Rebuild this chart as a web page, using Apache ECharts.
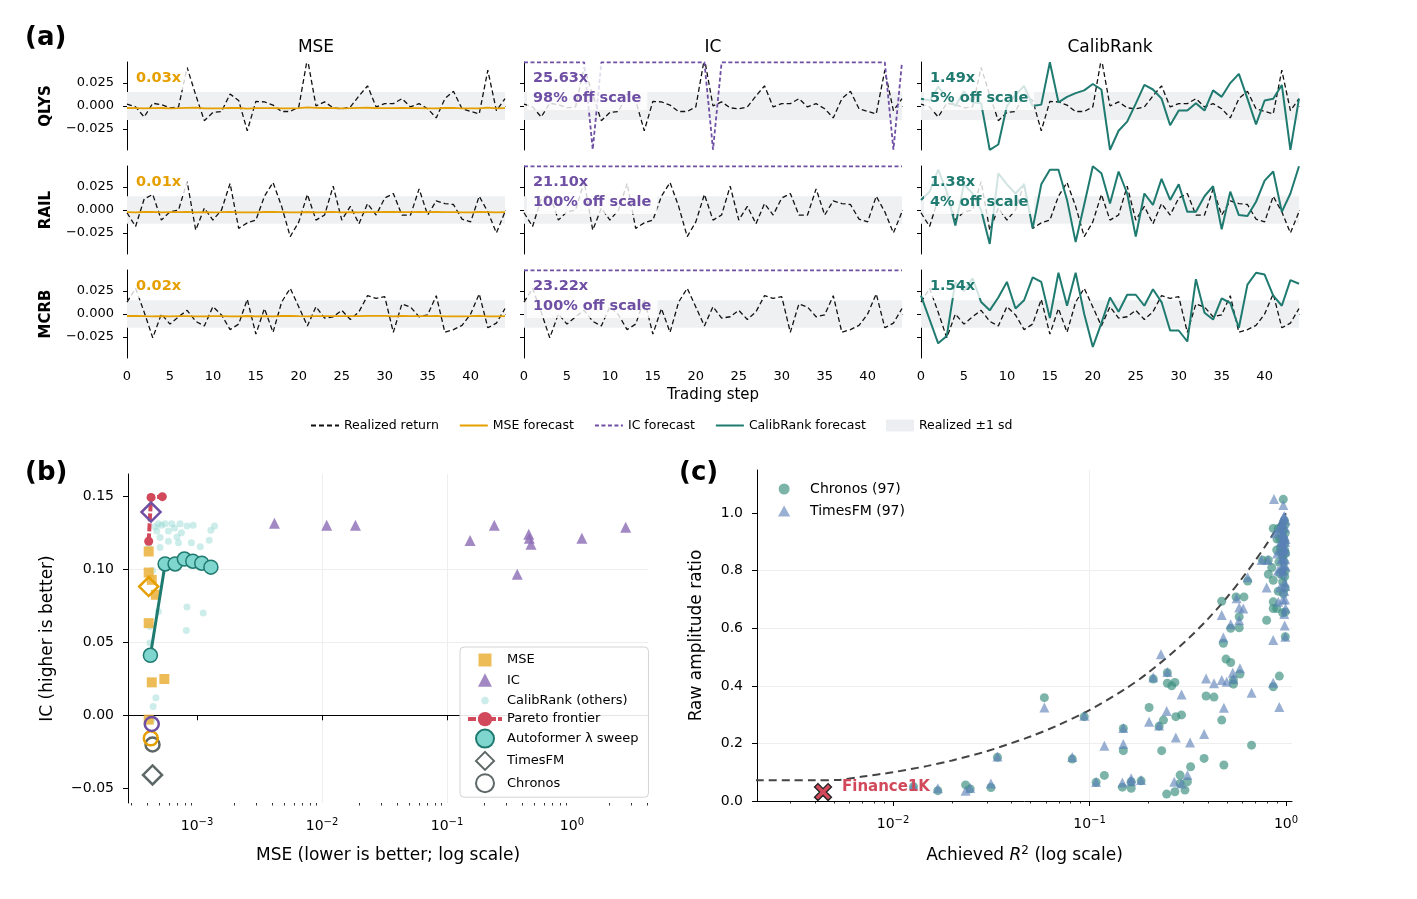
<!DOCTYPE html>
<html>
<head>
<meta charset="utf-8">
<script src="https://cdn.jsdelivr.net/npm/echarts@6/dist/echarts.min.js"></script>
<style>
  html, body { margin: 0; padding: 0; background: #fff; }
  #chart { width: 1417px; height: 899px; }
</style>
</head>
<body>
<div id="chart"></div>
<script>
// ---- panel (a): realized vs forecast returns ----
const tickers = ['QLYS', 'RAIL', 'MCRB'];
const losses = ['MSE', 'IC', 'CalibRank'];
const stepTicks = [0, 5, 10, 15, 20, 25, 30, 35, 40];
const returnTicks = [-0.025, 0, 0.025];
const bandSd = [0.0152, 0.0150, 0.0150];

const realizedQLYS = [0.002, -0.001, -0.012, 0.003, 0.0015, -0.002, -0.001, 0.042, 0.012, -0.016, -0.007, -0.006, 0.013, 0.006, -0.027, 0.005, 0.0045, 0.001, -0.006, -0.006, -0.001, 0.052, 0.0, 0.0045, -0.002, -0.003, -0.001, 0.011, 0.022, -0.001, 0.0026, 0.0026, 0.008, -0.001, 0.0026, -0.003, -0.013, 0.008, 0.016, -0.003, -0.006, -0.0085, 0.039, -0.005, 0.008];
const realizedRAIL = [-0.003, -0.018, 0.012, 0.017, -0.011, -0.002, 0.0, 0.031, -0.022, 0.002, -0.011, 0.0, 0.029, -0.020, -0.014, -0.011, 0.015, 0.030, 0.004, -0.029, -0.013, 0.017, -0.011, -0.0055, 0.026, -0.011, 0.004, -0.015, 0.007, -0.0055, 0.013, 0.018, -0.0055, -0.0055, 0.023, -0.0055, 0.010, 0.007, 0.006, -0.010, -0.013, 0.015, -0.002, -0.025, -0.002];
const realizedMCRB = [0.013, 0.028, 0.002, -0.026, 0.0, -0.011, -0.003, 0.004, -0.008, -0.013, 0.008, -0.001, -0.017, -0.011, 0.016, -0.022, 0.006, -0.020, 0.013, 0.028, 0.0076, -0.013, 0.008, -0.0045, -0.003, 0.004, -0.006, 0.0024, 0.020, 0.017, 0.019, -0.020, 0.011, 0.0076, -0.003, -0.001, 0.020, -0.020, -0.017, -0.0125, 0.0, 0.022, -0.015, -0.010, 0.006];

const mseQLYS = [-0.0022, -0.0024, -0.0027, -0.0023, -0.0022, -0.0025, -0.0024, -0.0020, -0.0018, -0.0026, -0.0027, -0.0026, -0.0021, -0.0022, -0.0028, -0.0024, -0.0023, -0.0023, -0.0025, -0.0025, -0.0023, -0.0016, -0.0020, -0.0022, -0.0024, -0.0026, -0.0024, -0.0021, -0.0019, -0.0024, -0.0023, -0.0023, -0.0022, -0.0024, -0.0023, -0.0025, -0.0027, -0.0022, -0.0020, -0.0025, -0.0026, -0.0026, -0.0018, -0.0026, -0.0023];
const mseRAIL = [-0.0024, -0.0026, -0.0022, -0.0021, -0.0025, -0.0024, -0.0023, -0.0020, -0.0026, -0.0023, -0.0025, -0.0024, -0.0020, -0.0026, -0.0025, -0.0025, -0.0022, -0.0020, -0.0023, -0.0027, -0.0025, -0.0022, -0.0025, -0.0024, -0.0021, -0.0025, -0.0023, -0.0025, -0.0023, -0.0024, -0.0022, -0.0021, -0.0024, -0.0024, -0.0021, -0.0024, -0.0022, -0.0023, -0.0023, -0.0025, -0.0025, -0.0022, -0.0024, -0.0026, -0.0024];
const mseMCRB = [-0.0022, -0.0020, -0.0024, -0.0027, -0.0024, -0.0025, -0.0024, -0.0023, -0.0025, -0.0025, -0.0023, -0.0024, -0.0026, -0.0025, -0.0022, -0.0026, -0.0023, -0.0026, -0.0022, -0.0020, -0.0023, -0.0025, -0.0023, -0.0024, -0.0024, -0.0023, -0.0024, -0.0023, -0.0021, -0.0021, -0.0021, -0.0026, -0.0022, -0.0023, -0.0024, -0.0024, -0.0021, -0.0026, -0.0025, -0.0025, -0.0024, -0.0021, -0.0025, -0.0025, -0.0023];

const icQLYS = [0.0475, 0.0475, 0.0475, 0.0475, 0.0475, 0.0475, 0.0475, 0.0475, -0.0475, 0.0475, 0.0475, 0.0475, 0.0475, 0.0475, 0.0475, 0.0475, 0.0475, 0.0475, 0.0475, 0.0475, 0.0475, 0.0475, -0.0475, 0.0475, 0.0475, 0.0475, 0.0475, 0.0475, 0.0475, 0.0475, 0.0475, 0.0475, 0.0475, 0.0475, 0.0475, 0.0475, 0.0475, 0.0475, 0.0475, 0.0475, 0.0475, 0.0475, 0.0475, -0.0475, 0.0475];
const icRAIL = [0.0475, 0.0475, 0.0475, 0.0475, 0.0475, 0.0475, 0.0475, 0.0475, 0.0475, 0.0475, 0.0475, 0.0475, 0.0475, 0.0475, 0.0475, 0.0475, 0.0475, 0.0475, 0.0475, 0.0475, 0.0475, 0.0475, 0.0475, 0.0475, 0.0475, 0.0475, 0.0475, 0.0475, 0.0475, 0.0475, 0.0475, 0.0475, 0.0475, 0.0475, 0.0475, 0.0475, 0.0475, 0.0475, 0.0475, 0.0475, 0.0475, 0.0475, 0.0475, 0.0475, 0.0475];
const icMCRB = [0.0475, 0.0475, 0.0475, 0.0475, 0.0475, 0.0475, 0.0475, 0.0475, 0.0475, 0.0475, 0.0475, 0.0475, 0.0475, 0.0475, 0.0475, 0.0475, 0.0475, 0.0475, 0.0475, 0.0475, 0.0475, 0.0475, 0.0475, 0.0475, 0.0475, 0.0475, 0.0475, 0.0475, 0.0475, 0.0475, 0.0475, 0.0475, 0.0475, 0.0475, 0.0475, 0.0475, 0.0475, 0.0475, 0.0475, 0.0475, 0.0475, 0.0475, 0.0475, 0.0475, 0.0475];

const calQLYS = [0.008, 0.006, 0.021, 0.010, 0.0, 0.016, 0.004, 0.003, -0.0478, -0.042, 0.0, 0.012, 0.022, 0.0, 0.0015, 0.0478, 0.004, 0.010, 0.014, 0.017, 0.024, 0.018, -0.0478, -0.027, -0.017, 0.0026, 0.023, 0.018, 0.008, -0.021, -0.005, -0.005, 0.003, -0.005, 0.017, 0.010, 0.025, 0.035, 0.008, -0.020, 0.006, 0.008, 0.023, -0.0478, 0.008];
const calRAIL = [0.011, 0.020, 0.044, 0.020, -0.017, 0.028, 0.018, 0.0, -0.037, 0.040, 0.028, 0.018, 0.028, -0.020, 0.028, 0.044, 0.044, 0.011, -0.035, 0.006, 0.0478, 0.040, 0.007, 0.042, 0.018, -0.029, 0.018, 0.0055, 0.034, 0.011, 0.028, -0.002, -0.002, 0.015, 0.026, -0.021, 0.020, -0.0055, -0.0066, 0.009, 0.032, 0.042, -0.002, 0.018, 0.0478];
const calMCRB = [0.020, -0.006, -0.032, -0.024, 0.035, 0.025, 0.039, 0.013, 0.004, 0.018, 0.035, 0.006, 0.015, 0.040, 0.035, -0.0045, 0.045, 0.009, 0.045, 0.0, -0.036, -0.010, 0.018, 0.0024, 0.021, 0.021, 0.009, 0.027, 0.013, -0.018, -0.018, -0.030, 0.038, 0.0014, -0.006, 0.017, 0.012, -0.015, 0.032, 0.045, 0.043, 0.020, 0.009, 0.037, 0.033];

const mseRatio = ['0.03x', '0.01x', '0.02x'];
const icRatio = ['25.63x', '21.10x', '23.22x'];
const icOffScale = ['98% off scale', '100% off scale', '100% off scale'];
const calRatio = ['1.49x', '1.38x', '1.54x'];
const calOffScale = ['5% off scale', '4% off scale', ''];

// ---- panel (b): MSE vs IC trade-off ----
const mseTicksB = [0.001, 0.01, 0.1, 1];
const mseMinorB = [0.0003, 0.0004, 0.0005, 0.0006, 0.0007, 0.0008, 0.0009, 0.002, 0.003, 0.004, 0.005, 0.006, 0.007, 0.008, 0.009, 0.02, 0.03, 0.04, 0.05, 0.06, 0.07, 0.08, 0.09, 0.2, 0.3, 0.4, 0.5, 0.6, 0.7, 0.8, 0.9, 2, 3, 4];
const icTicksB = [-0.05, 0, 0.05, 0.10, 0.15];
const mseLossPts = [[4.1e-4, 0.112], [4.1e-4, 0.0976], [4.34e-4, 0.0926], [4.68e-4, 0.0824], [4.1e-4, 0.063], [4.34e-4, 0.0225], [5.47e-4, 0.0248], [4.1e-4, -0.003]];
const icLossPts = [[4.16e-3, 0.1313], [1.09e-2, 0.130], [1.85e-2, 0.130], [0.153, 0.1195], [0.239, 0.130], [0.451, 0.1238], [0.456, 0.121], [0.47, 0.117], [0.365, 0.0965], [1.2, 0.121], [2.69, 0.1286]];
const calOtherPts = [[4.9e-4, 0.131], [5.2e-4, 0.130], [5.55e-4, 0.131], [6.27e-4, 0.131], [7.3e-4, 0.131], [8.3e-4, 0.1295], [9.3e-4, 0.130], [1.38e-3, 0.1295], [1.29e-3, 0.1266], [4.76e-4, 0.126], [5.9e-4, 0.126], [7.5e-4, 0.1249], [5.05e-4, 0.1215], [5.9e-4, 0.119], [7.1e-4, 0.118], [9.0e-4, 0.118], [1.06e-3, 0.1153], [1.25e-3, 0.1197], [5.05e-4, 0.1147], [8.3e-4, 0.074], [1.12e-3, 0.070], [8.2e-4, 0.058], [4.9e-4, 0.071], [4.2e-4, 0.0607], [4.2e-4, 0.0494], [4.68e-4, 0.012], [4.45e-4, 0.006], [4.35e-4, -0.003], [4.1e-4, 0.1154], [6.6e-4, 0.128], [4.6e-4, 0.129], [6.9e-4, 0.122], [4.4e-4, 0.099]];
const paretoPts = [[4.1e-4, 0.119], [4.28e-4, 0.149], [5.27e-4, 0.1495]];
const sweepPts = [[4.23e-4, 0.041], [5.55e-4, 0.1035], [6.67e-4, 0.1035], [7.91e-4, 0.1068], [9.24e-4, 0.1054], [1.09e-3, 0.104], [1.29e-3, 0.1013]];
const timesfmPtsB = [[4.28e-4, 0.139], [4.1e-4, 0.088], [4.4e-4, -0.0408]];
const timesfmLossB = ['IC', 'MSE', 'none'];
const chronosPtsB = [[4.4e-4, -0.020], [4.26e-4, -0.0158], [4.34e-4, -0.006]];
const chronosLossB = ['none', 'MSE', 'IC'];

// ---- panel (c): achieved R2 vs amplitude ratio ----
const r2TicksC = [0.01, 0.1, 1];
const r2MinorC = [0.003, 0.004, 0.005, 0.006, 0.007, 0.008, 0.009, 0.02, 0.03, 0.04, 0.05, 0.06, 0.07, 0.08, 0.09, 0.2, 0.3, 0.4, 0.5, 0.6, 0.7, 0.8, 0.9];
const ratioTicksC = [0, 0.2, 0.4, 0.6, 0.8, 1.0];
const boundR2 = [0.002, 0.003, 0.004, 0.0052, 0.007, 0.01, 0.015, 0.02, 0.03, 0.05, 0.07, 0.1, 0.15, 0.2, 0.3, 0.4, 0.5, 0.6, 0.7, 0.8, 0.9, 1.0];
const boundRatio = [0.072, 0.072, 0.072, 0.073, 0.085, 0.100, 0.122, 0.141, 0.173, 0.224, 0.265, 0.316, 0.387, 0.447, 0.548, 0.632, 0.707, 0.775, 0.837, 0.894, 0.949, 1.0];
const financePt = [[0.0044, 0.031]];
const chronosPtsC = [
  [0.0127, 0.050], [0.0169, 0.036], [0.0234, 0.056], [0.0247, 0.042], [0.0315, 0.047], [0.034, 0.152], [0.0589, 0.359], [0.0817, 0.146], [0.094, 0.293], [0.108, 0.065],
  [0.119, 0.089], [0.1486, 0.252], [0.1486, 0.175], [0.147, 0.048], [0.163, 0.044], [0.163, 0.067], [0.183, 0.070], [0.201, 0.325], [0.211, 0.424], [0.226, 0.260],
  [0.238, 0.281], [0.233, 0.175], [0.249, 0.446], [0.249, 0.409], [0.262, 0.400], [0.272, 0.412], [0.275, 0.293], [0.294, 0.299], [0.247, 0.024], [0.272, 0.032],
  [0.289, 0.090], [0.289, 0.061], [0.306, 0.038], [0.315, 0.067], [0.327, 0.119], [0.383, 0.148], [0.392, 0.365], [0.43, 0.361], [0.471, 0.281], [0.471, 0.694],
  [0.48, 0.548], [0.483, 0.125], [0.495, 0.493], [0.523, 0.481], [0.523, 0.600], [0.54, 0.420], [0.54, 0.406], [0.557, 0.709], [0.578, 0.640], [0.578, 0.602],
  [0.583, 0.441], [0.611, 0.709], [0.638, 0.764], [0.668, 0.194], [0.76, 0.837], [0.797, 0.628], [0.813, 0.788], [0.813, 0.837], [0.846, 0.811], [0.861, 0.767],
  [0.861, 0.397], [0.861, 0.692], [0.861, 0.669], [0.925, 0.434], [0.897, 0.669], [0.913, 0.729], [0.962, 0.654], [0.962, 0.762], [0.992, 0.657], [0.992, 0.571],
  [0.969, 1.048], [0.861, 0.947], [0.913, 0.947], [0.95, 0.929], [0.985, 0.895], [0.985, 0.872], [0.897, 0.872], [0.93, 0.91], [0.97, 0.94], [0.99, 0.96],
  [0.95, 0.86], [0.92, 0.83], [0.98, 0.83], [0.99, 0.80], [0.96, 0.80], [0.94, 0.88], [0.975, 0.905], [0.99, 0.93], [0.9, 0.91], [0.955, 0.955],
  [0.985, 0.78], [0.97, 0.72], [0.995, 0.86], [0.93, 0.79], [0.965, 0.85], [0.98, 0.975], [0.99, 0.74]
];
const timesfmPtsC = [
  [0.0127, 0.055], [0.0169, 0.044], [0.0234, 0.036], [0.0247, 0.045], [0.0315, 0.061], [0.034, 0.155], [0.0589, 0.325], [0.0817, 0.153], [0.094, 0.296], [0.108, 0.066],
  [0.119, 0.192], [0.1486, 0.254], [0.1486, 0.198], [0.147, 0.064], [0.163, 0.079], [0.163, 0.069], [0.183, 0.073], [0.201, 0.275], [0.211, 0.430], [0.231, 0.510],
  [0.226, 0.262], [0.247, 0.3125], [0.249, 0.448], [0.275, 0.221], [0.294, 0.370], [0.27, 0.067], [0.294, 0.061], [0.315, 0.090], [0.325, 0.203], [0.383, 0.233],
  [0.392, 0.426], [0.43, 0.409], [0.471, 0.420], [0.471, 0.646], [0.48, 0.568], [0.483, 0.324], [0.499, 0.414], [0.523, 0.614], [0.536, 0.446], [0.54, 0.425],
  [0.561, 0.704], [0.578, 0.672], [0.578, 0.628], [0.583, 0.461], [0.606, 0.669], [0.638, 0.777], [0.668, 0.376], [0.751, 0.837], [0.797, 0.742], [0.81, 0.837],
  [0.861, 0.559], [0.861, 0.411], [0.869, 1.049], [0.925, 0.327], [0.913, 0.692], [0.932, 0.742], [0.962, 0.791], [0.992, 0.747], [0.992, 0.571], [0.969, 1.028],
  [0.962, 0.964], [0.94, 0.90], [0.97, 0.93], [0.99, 0.95], [0.92, 0.94], [0.985, 0.88], [0.95, 0.84], [0.975, 0.82], [0.995, 0.91], [0.9, 0.86],
  [0.96, 0.89], [0.98, 0.99], [0.93, 0.87], [0.99, 0.84], [0.955, 0.925], [0.985, 0.76], [0.97, 0.80], [0.995, 0.975], [0.945, 0.81], [0.965, 0.70],
  [0.99, 0.70], [0.98, 0.65], [0.975, 0.87], [0.935, 0.96], [0.99, 0.90], [0.88, 0.93], [0.91, 0.80], [0.985, 0.92], [0.96, 0.845], [0.995, 0.815],
  [0.97, 0.985], [0.99, 0.87], [0.95, 0.90], [0.98, 0.73], [0.94, 0.95], [0.995, 0.67], [0.985, 0.61]
];

const realizedRows = [realizedQLYS, realizedRAIL, realizedMCRB];
const forecastRows = [[mseQLYS, icQLYS, calQLYS], [mseRAIL, icRAIL, calRAIL], [mseMCRB, icMCRB, calMCRB]];

const FONT = 'DejaVu Sans';
const C_MSE = '#E69F00', C_IC = '#6E4FA3', C_CAL = '#1F7A70';
const lossColor = { MSE: C_MSE, IC: C_IC, none: '#5E6767' };
const A_LEFT = [127, 524, 921], A_TOP = [62, 166, 270], A_W = 378, A_H = 88;

// legend icons (padded so they keep their real size inside the legend slot)
const ICON_SQUARE = 'path://M0,0 M18,18 M2.5,2.5 L15.5,2.5 L15.5,15.5 L2.5,15.5 Z';
const ICON_TRIANGLE = 'path://M0,0 M18,18 M9,2 L16,15.5 L2,15.5 Z';
const ICON_DOT = 'path://M0,0 M18,18 M9,5 L11.8,6.2 L13,9 L11.8,11.8 L9,13 L6.2,11.8 L5,9 L6.2,6.2 Z';
const ICON_DIAMOND = 'path://M9,0 L18,9 L9,18 L0,9 Z';
const ICON_TRI_SMALL = 'path://M5,0 L10,9 L0,9 Z';

const minus = s => String(s).replace('-', '\u2212');
const logLabel = v => '10{sup|' + minus(Math.round(Math.log10(v))) + '}';
const supRich = { sup: { fontSize: 10, fontFamily: FONT, color: '#000', padding: [0, 0, 8, 0] } };
const axisLineBlack = { show: true, lineStyle: { color: '#000', width: 1 } };
const tickStyle = { color: '#000', width: 1 };

const chart = echarts.init(document.getElementById('chart'), null, { renderer: 'canvas' });

const grids = [], xAxes = [], yAxes = [], series = [], graphics = [];

for (let r = 0; r < 3; r++) {
  for (let c = 0; c < 3; c++) {
    const g = r * 3 + c;
    grids.push({ left: A_LEFT[c], top: A_TOP[r], width: A_W, height: A_H, containLabel: false, outerBoundsMode: 'none' });
    xAxes.push({
      gridIndex: g, type: 'value', min: 0, max: 44,
      name: (r === 2 && c === 1) ? 'Trading step' : '', nameLocation: 'middle', nameGap: 30,
      nameTextStyle: { fontFamily: FONT, fontSize: 15, color: '#000' },
      axisLine: axisLineBlack,
      axisTick: { show: true, customValues: stepTicks, length: 4, lineStyle: tickStyle },
      axisLabel: { show: r === 2, customValues: stepTicks, fontFamily: FONT, fontSize: 13, color: '#000', margin: 12 },
      splitLine: { show: false }
    });
    yAxes.push({
      gridIndex: g, type: 'value', min: -0.048, max: 0.048,
      axisLine: axisLineBlack,
      axisTick: { show: true, customValues: returnTicks, length: 4, lineStyle: tickStyle },
      axisLabel: { show: c === 0, customValues: returnTicks, fontFamily: FONT, fontSize: 13, color: '#000', margin: 13, formatter: v => minus(v.toFixed(3)) },
      splitLine: { show: false }
    });
    series.push({
      type: 'line', name: 'Realized return', xAxisIndex: g, yAxisIndex: g, z: 3, silent: true,
      data: realizedRows[r].map((v, i) => [i, v]), symbol: 'none',
      lineStyle: { color: '#111', width: 1.3, type: [5, 3] }, itemStyle: { color: '#111' },
      markArea: { silent: true, itemStyle: { color: '#eff0f2' }, data: [[{ yAxis: -bandSd[r] }, { yAxis: bandSd[r] }]] }
    });
    const fc = forecastRows[r][c];
    const style = c === 0 ? { color: C_MSE, width: 1.8, type: 'solid' }
      : c === 1 ? { color: C_IC, width: 1.8, type: [4, 2.5] }
      : { color: C_CAL, width: 2, type: 'solid' };
    series.push({
      type: 'line', name: losses[c] + ' forecast', xAxisIndex: g, yAxisIndex: g, z: 4, silent: true,
      data: fc.map((v, i) => [i, v]), symbol: 'none', lineStyle: style, itemStyle: { color: style.color }
    });
    // ratio annotation
    let txt, col;
    if (c === 0) { txt = mseRatio[r]; col = C_MSE; }
    else if (c === 1) { txt = icRatio[r] + '\n' + icOffScale[r]; col = C_IC; }
    else { txt = calRatio[r] + (calOffScale[r] ? '\n' + calOffScale[r] : ''); col = C_CAL; }
    graphics.push({
      type: 'text', left: A_LEFT[c] + 3, top: A_TOP[r] + 2, z: 100,
      style: { text: txt, fill: col, fontFamily: FONT, fontWeight: 'bold', fontSize: 14.5, lineHeight: 20,
        backgroundColor: 'rgba(255,255,255,0.8)', padding: [4, 6, 2, 6] }
    });
  }
}
// dummy series for band legend
series.push({ type: 'line', name: 'Realized \u00b11 sd', xAxisIndex: 0, yAxisIndex: 0, data: [], itemStyle: { color: '#eceef1' } });

// column titles, row labels, panel letters
losses.forEach((l, c) => graphics.push({ type: 'text', x: A_LEFT[c] + A_W / 2, y: 48, style: { text: l, fontFamily: FONT, fontSize: 17, fill: '#000', align: 'center', verticalAlign: 'middle' } }));
tickers.forEach((t, r) => graphics.push({ type: 'text', x: 46, y: A_TOP[r] + A_H / 2, rotation: Math.PI / 2, style: { text: t, fontFamily: FONT, fontSize: 15, fontWeight: 'bold', fill: '#000', align: 'center', verticalAlign: 'middle' } }));
[['(a)', 25, 38], ['(b)', 25, 473], ['(c)', 679, 473]].forEach(([t, x, y]) => graphics.push({ type: 'text', x: x, y: y, style: { text: t, fontFamily: FONT, fontSize: 26, fontWeight: 'bold', fill: '#000', verticalAlign: 'middle' } }));
// Finance1K annotation sits next to its marker
graphics.push({ type: 'text', z: 120, left: 842, top: 780, style: { text: 'Finance1K', fontFamily: FONT, fontWeight: 'bold', fontSize: 15, fill: '#D1495B' } });

// ---- panel (b) ----
const GB = 9;
grids.push({ left: 128, top: 474, width: 520, height: 329, containLabel: false, outerBoundsMode: 'none' });
xAxes.push({
  gridIndex: GB, type: 'log', logBase: 10, min: 2.8e-4, max: 4.06,
  name: 'MSE (lower is better; log scale)', nameLocation: 'middle', nameGap: 44,
  nameTextStyle: { fontFamily: FONT, fontSize: 17, color: '#000' },
  axisLine: axisLineBlack,
  axisTick: { show: true, customValues: mseTicksB, length: 5, lineStyle: tickStyle },
  axisLabel: { customValues: mseTicksB, formatter: logLabel, rich: supRich, fontFamily: FONT, fontSize: 14, color: '#000', margin: 14 },
  splitLine: { show: true, showMinLine: false, showMaxLine: false, lineStyle: { color: '#eeeeee', width: 1 } }
});
xAxes.push({
  gridIndex: GB, type: 'log', logBase: 10, min: 2.8e-4, max: 4.06, position: 'bottom',
  axisLine: { show: false },
  axisTick: { show: true, customValues: mseMinorB, length: 2.5, lineStyle: { color: '#000', width: 0.8 } },
  axisLabel: { show: false }, splitLine: { show: false }
});
yAxes.push({
  gridIndex: GB, type: 'value', min: -0.06, max: 0.165,
  name: 'IC (higher is better)', nameLocation: 'middle', nameGap: 72,
  nameTextStyle: { fontFamily: FONT, fontSize: 17, color: '#000' },
  axisLine: axisLineBlack,
  axisTick: { show: true, customValues: icTicksB, length: 5, lineStyle: tickStyle },
  axisLabel: { customValues: icTicksB, formatter: v => minus(v.toFixed(2)), fontFamily: FONT, fontSize: 14, color: '#000', margin: 14 },
  splitLine: { show: true, showMinLine: false, showMaxLine: false, lineStyle: { color: '#eeeeee', width: 1 } }
});
const XB = 9, YB = 9;
series.push(
  { type: 'scatter', name: 'MSE', xAxisIndex: XB, yAxisIndex: YB, data: mseLossPts, symbol: 'rect', symbolSize: 10, itemStyle: { color: '#EBB03A', opacity: 0.85 }, z: 3 },
  { type: 'scatter', name: 'IC', xAxisIndex: XB, yAxisIndex: YB, data: icLossPts, symbol: 'triangle', symbolSize: 11, itemStyle: { color: '#8C6BB5', opacity: 0.8 }, z: 3 },
  { type: 'scatter', name: 'CalibRank (others)', xAxisIndex: XB, yAxisIndex: YB, data: calOtherPts, symbol: 'circle', symbolSize: 7, itemStyle: { color: '#8DD8D0', opacity: 0.45 }, z: 2 },
  { type: 'line', name: 'Pareto frontier', xAxisIndex: XB, yAxisIndex: YB, data: paretoPts, symbol: 'circle', symbolSize: 9, lineStyle: { color: '#D1495B', width: 4, type: [8, 2] }, itemStyle: { color: '#D1495B' }, z: 4 },
  { type: 'line', name: 'Autoformer \u03bb sweep', xAxisIndex: XB, yAxisIndex: YB, data: sweepPts, symbol: 'circle', symbolSize: 14, showAllSymbol: true, lineStyle: { color: C_CAL, width: 3 }, itemStyle: { color: '#7ED6CE', borderColor: C_CAL, borderWidth: 1.5 }, z: 5 },
  { type: 'scatter', name: 'TimesFM', xAxisIndex: XB, yAxisIndex: YB, symbol: 'diamond', symbolSize: 19,
    data: timesfmPtsB.map((p, i) => ({ value: p, itemStyle: { borderColor: lossColor[timesfmLossB[i]] } })),
    itemStyle: { color: 'rgba(255,255,255,0)', borderColor: '#5E6767', borderWidth: 2.5, opacity: 1 }, z: 6 },
  { type: 'scatter', name: 'Chronos', xAxisIndex: XB, yAxisIndex: YB, symbol: 'circle', symbolSize: 14,
    data: chronosPtsB.map((p, i) => ({ value: p, itemStyle: { borderColor: lossColor[chronosLossB[i]] } })),
    itemStyle: { color: 'rgba(255,255,255,0)', borderColor: '#5E6767', borderWidth: 2.5, opacity: 1 }, z: 6 }
);

// ---- panel (c) ----
const GC = 10;
grids.push({ left: 757, top: 470, width: 535, height: 331, containLabel: false, outerBoundsMode: 'none' });
xAxes.push({
  gridIndex: GC, type: 'log', logBase: 10, min: 2.03e-3, max: 1.073,
  name: 'Achieved {i|R}{s|2} (log scale)', nameLocation: 'middle', nameGap: 44,
  nameTextStyle: { fontFamily: FONT, fontSize: 17, color: '#000',
    rich: { i: { fontFamily: FONT, fontSize: 17, fontStyle: 'italic', color: '#000' }, s: { fontFamily: FONT, fontSize: 12, color: '#000', padding: [0, 0, 9, 0] } } },
  axisLine: axisLineBlack,
  axisTick: { show: true, customValues: r2TicksC, length: 5, lineStyle: tickStyle },
  axisLabel: { customValues: r2TicksC, formatter: logLabel, rich: supRich, fontFamily: FONT, fontSize: 14, color: '#000', margin: 14 },
  splitLine: { show: true, showMinLine: false, showMaxLine: false, lineStyle: { color: '#eeeeee', width: 1 } }
});
xAxes.push({
  gridIndex: GC, type: 'log', logBase: 10, min: 2.03e-3, max: 1.073, position: 'bottom',
  axisLine: { show: false },
  axisTick: { show: true, customValues: r2MinorC, length: 2.5, lineStyle: { color: '#000', width: 0.8 } },
  axisLabel: { show: false }, splitLine: { show: false }
});
yAxes.push({
  gridIndex: GC, type: 'value', min: 0, max: 1.15,
  name: 'Raw amplitude ratio', nameLocation: 'middle', nameGap: 52,
  nameTextStyle: { fontFamily: FONT, fontSize: 17, color: '#000' },
  axisLine: axisLineBlack,
  axisTick: { show: true, customValues: ratioTicksC, length: 5, lineStyle: tickStyle },
  axisLabel: { customValues: ratioTicksC, formatter: v => v.toFixed(1), fontFamily: FONT, fontSize: 14, color: '#000', margin: 14 },
  splitLine: { show: true, showMinLine: false, showMaxLine: false, lineStyle: { color: '#eeeeee', width: 1 } }
});
const XC = 11, YC = 10;
series.push(
  { type: 'line', name: 'bound', xAxisIndex: XC, yAxisIndex: YC, data: boundR2.map((x, i) => [x, boundRatio[i]]), symbol: 'none', smooth: 0.3, lineStyle: { color: '#444', width: 2, type: [8, 5] }, z: 2, silent: true },
  { type: 'scatter', name: 'Chronos (97)', xAxisIndex: XC, yAxisIndex: YC, data: chronosPtsC, symbol: 'circle', symbolSize: 9, itemStyle: { color: '#3E9080', opacity: 0.68 }, z: 3 },
  { type: 'scatter', name: 'TimesFM (97)', xAxisIndex: XC, yAxisIndex: YC, data: timesfmPtsC, symbol: 'triangle', symbolSize: 10, itemStyle: { color: '#5A7FB8', opacity: 0.62 }, z: 3 },
  { type: 'scatter', name: 'Finance1K', xAxisIndex: XC, yAxisIndex: YC, data: financePt, z: 6,
    symbol: 'path://M2,0 L5,3 L8,0 L10,2 L7,5 L10,8 L8,10 L5,7 L2,10 L0,8 L3,5 L0,2 Z', symbolSize: 17,
    itemStyle: { color: '#D1495B', borderColor: '#222', borderWidth: 1.3, opacity: 1 } }
);

const legendText = { fontFamily: FONT, color: '#000' };
const noSymbol = { opacity: 0 };
chart.setOption({
  animation: false,
  backgroundColor: '#fff',
  grid: grids,
  xAxis: xAxes,
  yAxis: yAxes,
  series: series,
  graphic: graphics,
  legend: [
    {
      left: 305, top: 414, orient: 'horizontal', itemGap: 20, itemWidth: 28, itemHeight: 12,
      textStyle: Object.assign({ fontSize: 12.5 }, legendText),
      data: [
        { name: 'Realized return', itemStyle: noSymbol },
        { name: 'MSE forecast', itemStyle: noSymbol },
        { name: 'IC forecast', itemStyle: noSymbol },
        { name: 'CalibRank forecast', itemStyle: noSymbol },
        { name: 'Realized \u00b11 sd', icon: 'rect', itemStyle: { color: '#eceef1' } }
      ],
      selectedMode: false
    },
    {
      left: 460, top: 647, orient: 'vertical', itemGap: 2.3, itemWidth: 34, itemHeight: 18, symbolKeepAspect: true,
      backgroundColor: 'rgba(255,255,255,0.9)',
      borderColor: '#d4d4d4', borderWidth: 1, borderRadius: 4, padding: [4, 10, 4, 6],
      textStyle: Object.assign({ fontSize: 13 }, legendText),
      data: [
        { name: 'MSE', icon: ICON_SQUARE },
        { name: 'IC', icon: ICON_TRIANGLE },
        { name: 'CalibRank (others)', icon: ICON_DOT },
        { name: 'Pareto frontier', lineStyle: { width: 4 } },
        { name: 'Autoformer \u03bb sweep', icon: 'circle' },
        { name: 'TimesFM', icon: ICON_DIAMOND },
        { name: 'Chronos', icon: 'circle' }
      ],
      selectedMode: false
    },
    {
      left: 773, top: 477, orient: 'vertical', itemGap: 8, itemWidth: 42, itemHeight: 11, symbolKeepAspect: true,
      textStyle: Object.assign({ fontSize: 14 }, legendText),
      data: [{ name: 'Chronos (97)', icon: 'circle' }, { name: 'TimesFM (97)', icon: ICON_TRI_SMALL }],
      selectedMode: false
    }
  ]
});
</script>
</body>
</html>
